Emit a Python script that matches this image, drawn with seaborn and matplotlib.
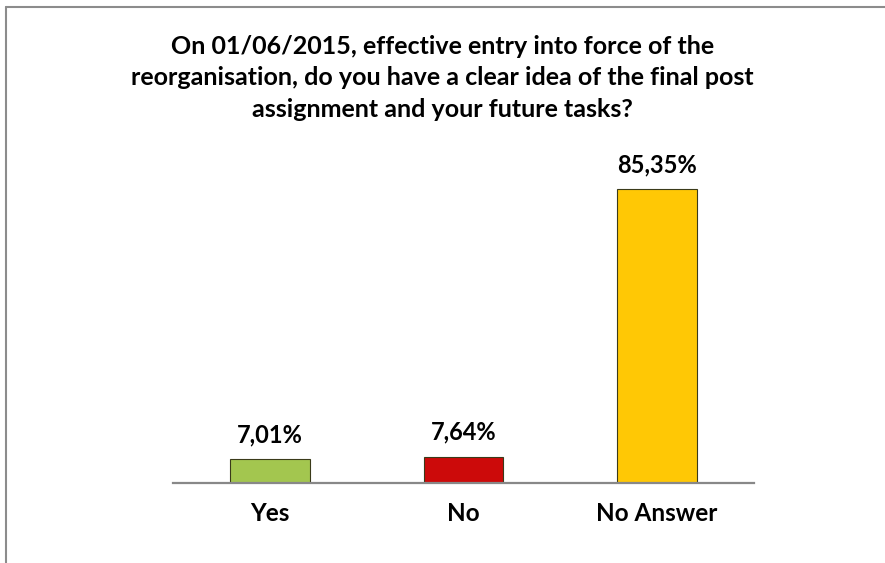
import matplotlib.pyplot as plt
import seaborn as sns
import pandas as pd
from matplotlib.lines import Line2D

# data
categories = ['Yes', 'No', 'No Answer']
values = [7.01, 7.64, 85.35]
bar_colors = ['#a3c64f', '#cc0a0a', '#ffc805']
title = ('On 01/06/2015, effective entry into force of the\n'
         'reorganisation, do you have a clear idea of the final post\n'
         'assignment and your future tasks?')

sns.set_theme(style='white')
plt.rcParams['font.family'] = ['Lato', 'DejaVu Sans']
plt.rcParams['text.color'] = 'black'
plt.rcParams['xtick.color'] = 'black'

df = pd.DataFrame({'cat': categories, 'val': values})

fig = plt.figure(figsize=(8.85, 5.63), dpi=100)
ax = fig.add_axes([0.1955, 0.1421, 0.6565, 0.5506])

sns.barplot(data=df, x='cat', y='val', hue='cat', palette=bar_colors,
            saturation=1, width=0.41, legend=False, ax=ax,
            edgecolor='#3a3a1a', linewidth=0.8)

# value labels
for i, v in enumerate(values):
    ax.annotate(f'{v:.2f}%'.replace('.', ','), (i, v), xytext=(0, 17.5),
                textcoords='offset points', ha='center', va='center',
                fontsize=17, fontweight='bold', color='black')

ax.set_ylim(0, 90)
ax.set_xlim(-0.5, 2.5)
ax.set_xlabel('')
ax.set_ylabel('')
ax.set_yticks([])
for s in ['top', 'right', 'left']:
    ax.spines[s].set_visible(False)
ax.spines['bottom'].set_color('#888888')
ax.spines['bottom'].set_linewidth(1.6)
ax.tick_params(axis='x', length=0, pad=14, labelsize=17.5, labelcolor='black')
for lab in ax.get_xticklabels():
    lab.set_fontweight('bold')

fig.text(0.5, 0.8615, title, ha='center', va='center', fontsize=18,
         fontweight='bold', linespacing=1.45)

# chart area border (left and top only visible)
fig.add_artist(Line2D([0.007, 0.007], [0, 0.988], transform=fig.transFigure,
                      color='#8c8c8c', linewidth=1.5))
fig.add_artist(Line2D([0.007, 1.0], [0.988, 0.988], transform=fig.transFigure,
                      color='#8c8c8c', linewidth=1.5))

plt.savefig('out.png', dpi=100)
